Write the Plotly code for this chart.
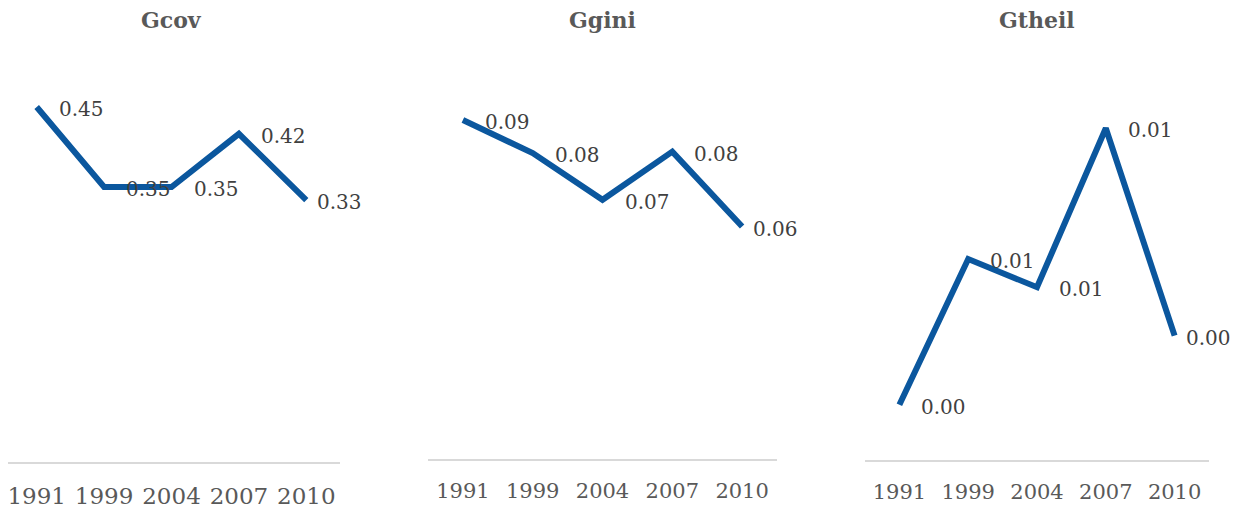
import plotly.graph_objects as go

# ---- data ----
years = ["1991", "1999", "2004", "2007", "2010"]
titles = ["Gcov", "Ggini", "Gtheil"]
gcov = [0.450, 0.3485, 0.3485, 0.416, 0.332]
ggini = [0.090, 0.0812, 0.0688, 0.0816, 0.0617]
gtheil = [0.0020, 0.00727, 0.00625, 0.0120, 0.0045]
series = [gcov, ggini, gtheil]
y_ranges = [[0, 0.5], [0, 0.1], [0, 0.014]]

# ---- layout geometry (window pixels; page body has an 8px margin) ----
OFF = 8
W, H = 1240 - OFF, 510 - OFF
panels = [
    dict(x0=3, x1=340, ybot=462, ytop=67.5, tick=23, standoff=13),
    dict(x0=428, x1=777, ybot=459, ytop=82.3, tick=21, standoff=12),
    dict(x0=865, x1=1209, ybot=460, ytop=73, tick=21, standoff=12),
]


def px(v):
    return min(max((v - OFF) / W, 0), 1)


def py(v):
    return min(max(1 - (v - OFF) / H, 0), 1)


LINE = "#0B579E"
FONT = "DejaVu Serif"

fig = go.Figure()
annotations = []
ncat = len(years)
for i, (vals, title, yr, p) in enumerate(zip(series, titles, y_ranges, panels)):
    n = "" if i == 0 else str(i + 1)
    xa, ya = "x" + n, "y" + n
    fig.add_trace(go.Scatter(
        x=years, y=vals, mode="lines",
        line=dict(color=LINE, width=6),
        xaxis=xa, yaxis=ya, hoverinfo="skip", showlegend=False,
    ))
    for k, yv in enumerate(vals):
        annotations.append(dict(
            x=k, y=yv, xref=xa, yref=ya, text=f"{yv:.2f}",
            showarrow=False, xanchor="left", yanchor="middle",
            xshift=20 if k < ncat - 1 else 9, yshift=-2,
            font=dict(family=FONT, size=20, color="#404040"),
        ))
    annotations.append(dict(
        x=((p["x0"] + p["x1"]) / 2 - OFF) / W, y=py(20), xref="paper", yref="paper",
        text=f"<b>{title}</b>", showarrow=False, xanchor="center", yanchor="middle",
        font=dict(family=FONT, size=22, color="#595959"),
    ))
    # category range, trimmed if the panel's left edge lies in the page margin
    step = (p["x1"] - p["x0"]) / ncat
    left = max(p["x0"], OFF)
    r0 = -0.5 + (left - p["x0"]) / step
    fig.layout["xaxis" + n] = dict(
        domain=[px(left), px(p["x1"])], anchor=ya, type="category",
        categoryorder="array", categoryarray=years,
        range=[r0, ncat - 0.5], autorange=False, automargin=False,
        showgrid=False, zeroline=False, showline=True, linecolor="#D9D9D9",
        linewidth=1.5, ticks="", ticklabelstandoff=p["standoff"],
        tickfont=dict(family=FONT, size=p["tick"], color="#595959"),
        fixedrange=True,
    )
    fig.layout["yaxis" + n] = dict(
        domain=[py(p["ybot"]), py(p["ytop"])], anchor=xa,
        range=yr, autorange=False, visible=False, showgrid=False,
        zeroline=False, fixedrange=True, automargin=False,
    )

fig.update_layout(
    width=W, height=H, margin=dict(l=0, r=0, t=0, b=0, autoexpand=False),
    paper_bgcolor="white", plot_bgcolor="white",
    annotations=annotations, showlegend=False,
)
fig.write_html("out.html", config={"displayModeBar": False})
